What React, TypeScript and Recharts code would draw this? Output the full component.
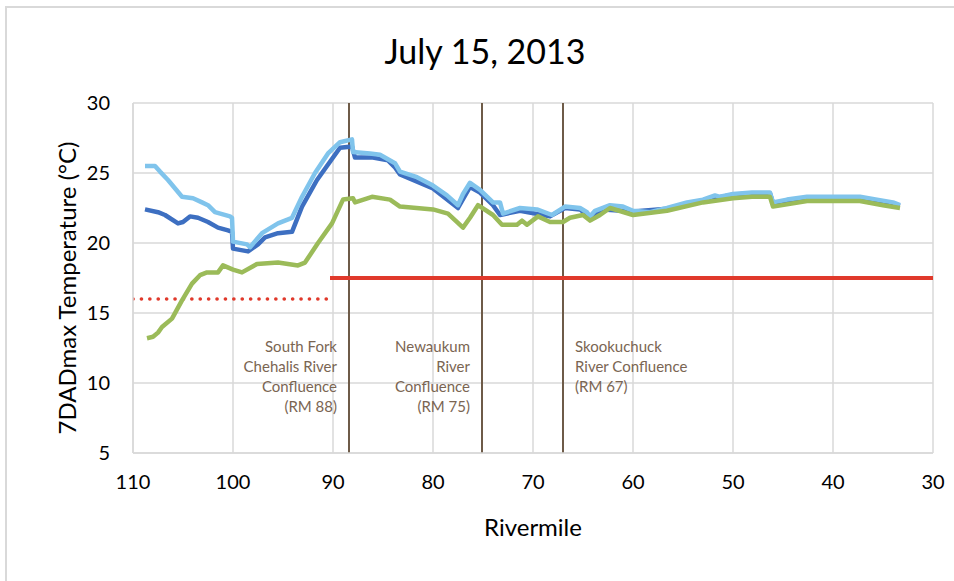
import React from 'react';
import { LineChart, Line, XAxis, YAxis, CartesianGrid, ReferenceLine, Label } from 'recharts';

const FONT = 'Lato, "Open Sans", sans-serif';

const xTicks = [110, 100, 90, 80, 70, 60, 50, 40, 30];
const yTicks = [5, 10, 15, 20, 25, 30];

// [rivermile, temperature]
const lightBlue: [number, number][] = [
  [108.8, 25.5], [107.8, 25.5], [107.3, 25.1], [106.5, 24.5], [105.1, 23.3], [104.0, 23.2],
  [103.1, 22.9], [102.5, 22.7], [101.8, 22.2], [100.3, 21.9], [100.1, 21.8], [100.0, 20.1],
  [98.6, 19.9], [98.3, 19.7], [97.1, 20.7], [95.5, 21.4], [94.1, 21.8], [93.1, 23.3],
  [91.8, 25.0], [90.5, 26.4], [89.3, 27.2], [88.1, 27.4], [88.0, 26.5], [86.3, 26.4],
  [85.3, 26.3], [83.8, 25.7], [83.3, 25.1], [81.6, 24.7], [80.0, 24.1], [78.6, 23.4],
  [77.5, 22.7], [77.0, 23.5], [76.3, 24.3], [75.3, 23.8], [74.0, 22.9], [73.3, 22.9],
  [73.0, 22.1], [71.3, 22.5], [69.6, 22.4], [68.1, 22.0], [66.8, 22.6], [65.3, 22.5],
  [64.6, 22.2], [64.3, 21.9], [63.8, 22.3], [62.3, 22.7], [61.0, 22.6], [60.0, 22.3],
  [58.3, 22.2], [56.6, 22.5], [54.6, 22.9], [53.0, 23.1], [51.8, 23.4], [51.3, 23.3],
  [50.0, 23.5], [48.1, 23.6], [47.3, 23.6], [46.3, 23.6], [46.0, 22.9], [44.6, 23.1],
  [42.6, 23.3], [40.0, 23.3], [37.3, 23.3], [35.6, 23.1], [34.0, 22.9], [33.3, 22.7],
];

const darkBlue: [number, number][] = [
  [108.8, 22.4], [107.5, 22.2], [106.8, 22.0], [105.5, 21.4], [105.0, 21.5], [104.3, 21.9],
  [103.5, 21.8], [102.5, 21.5], [101.5, 21.1], [100.5, 20.9], [100.1, 20.8], [100.0, 19.6],
  [98.5, 19.4], [97.5, 19.9], [96.8, 20.4], [95.5, 20.7], [94.1, 20.8], [93.1, 22.6],
  [91.6, 24.5], [90.3, 25.8], [89.3, 26.8], [88.1, 26.9], [87.8, 26.1], [86.0, 26.1],
  [84.5, 25.9], [83.8, 25.4], [83.3, 24.9], [80.0, 23.9], [77.5, 22.5], [76.3, 24.0],
  [75.3, 23.6], [74.0, 22.7], [73.3, 22.0], [71.3, 22.3], [68.3, 21.9], [66.8, 22.5],
  [65.3, 22.4], [64.3, 21.8], [63.0, 22.4], [60.0, 22.25], [56.6, 22.45], [53.0, 23.05],
  [50.0, 23.45], [48.1, 23.55], [46.3, 23.55], [46.0, 22.85], [42.6, 23.25], [37.3, 23.25],
  [33.3, 22.65],
];

const green: [number, number][] = [
  [108.6, 13.2], [108.0, 13.3], [107.5, 13.6], [107.1, 14.0], [106.1, 14.6], [105.1, 15.9],
  [104.1, 17.1], [103.3, 17.7], [102.6, 17.9], [101.5, 17.9], [101.0, 18.4], [100.0, 18.1],
  [99.1, 17.9], [97.6, 18.5], [95.5, 18.6], [93.5, 18.4], [92.8, 18.6], [91.5, 20.0],
  [90.1, 21.4], [89.0, 23.1], [88.0, 23.2], [87.8, 22.9], [86.1, 23.3], [84.3, 23.1],
  [83.3, 22.6], [80.0, 22.4], [78.5, 22.1], [77.0, 21.1], [76.3, 21.8], [75.5, 22.7],
  [74.0, 22.0], [73.1, 21.3], [71.6, 21.3], [71.1, 21.6], [70.6, 21.3], [69.5, 21.9],
  [68.3, 21.5], [67.0, 21.5], [66.3, 21.8], [65.0, 22.0], [64.3, 21.6], [63.3, 22.0],
  [62.3, 22.5], [60.0, 22.0], [56.6, 22.3], [53.0, 22.9], [50.0, 23.2], [48.1, 23.3],
  [46.3, 23.3], [46.0, 22.6], [42.6, 23.0], [40.0, 23.0], [37.3, 23.0], [35.0, 22.7],
  [33.3, 22.5],
];

const criterionSolid: [number, number][] = [[90.3, 17.5], [29.8, 17.5]];
const criterionDotted: [number, number][] = [[110, 16], [90.2, 16]];

const confluenceRm = [88.4, 75.1, 67];
const confluenceText = [
  ['South Fork', 'Chehalis River', 'Confluence', '(RM 88)'],
  ['Newaukum', 'River', 'Confluence', '(RM 75)'],
  ['Skookuchuck', 'River Confluence', '(RM 67)'],
];
const confluenceSide = ['left', 'left', 'right'];

const toRows = (pts: [number, number][]) => pts.map(([rm, t]) => ({ rm, t }));

const BROWN_LINE = '#6e5b48';
const BROWN_TEXT = '#7a6552';
const GRID = '#d9d9d9';

const makeAnnot = (lines: string[], side: string) => (props: any) => {
  const vb = props.viewBox || {};
  const x = (vb.x ?? 0) + (side === 'left' ? -12 : 12);
  const y0 = (vb.y ?? 0) + 244;
  return (
    <text
      x={x}
      y={y0}
      textAnchor={side === 'left' ? 'end' : 'start'}
      fill={BROWN_TEXT}
      fontFamily={FONT}
      fontSize={15}
    >
      {lines.map((l, i) => (
        <tspan key={i} x={x} dy={i === 0 ? '0.35em' : 20}>
          {l}
        </tspan>
      ))}
    </text>
  );
};

export default function App() {
  return (
    <div
      style={{
        position: 'absolute',
        left: 0,
        top: 0,
        width: 954,
        height: 581,
        overflow: 'hidden',
        background: '#fff',
        fontFamily: FONT,
      }}
    >
      <div
        style={{
          position: 'absolute',
          left: 5,
          top: 6,
          width: 949,
          height: 575,
          borderLeft: `2px solid ${GRID}`,
          borderTop: `2px solid ${GRID}`,
          boxSizing: 'border-box',
        }}
      />
      <div
        style={{
          position: 'absolute',
          left: 335,
          top: 28,
          width: 300,
          textAlign: 'center',
          fontSize: 34,
          lineHeight: '46px',
          color: '#000',
          fontFamily: FONT,
        }}
      >
        July 15, 2013
      </div>
      <div style={{ position: 'absolute', left: 0, top: 0 }}>
        <LineChart width={954} height={581} margin={{ top: 103, right: 21, bottom: 0, left: 0 }}>
          <CartesianGrid stroke={GRID} strokeWidth={1.5} />
          <XAxis
            dataKey="rm"
            type="number"
            domain={[30, 110]}
            reversed
            ticks={xTicks}
            interval={0}
            height={128}
            axisLine={{ stroke: GRID, strokeWidth: 1.5 }}
            tickLine={false}
            tickMargin={16}
            tick={{ fill: '#000', fontSize: 20, fontFamily: FONT }}
            allowDataOverflow
          >
            <Label
              value="Rivermile"
              position="center"
              dy={10}
              fill="#000"
              fontSize={24}
              fontFamily={FONT}
            />
          </XAxis>
          <YAxis
            type="number"
            domain={[5, 30]}
            ticks={yTicks}
            interval={0}
            width={133}
            axisLine={{ stroke: GRID, strokeWidth: 1.5 }}
            tickLine={false}
            tickMargin={17}
            tick={{ fill: '#000', fontSize: 20, fontFamily: FONT }}
          >
            <Label
              value="7DADmax Temperature (°C)"
              position="center"
              angle={-90}
              dx={1}
              dy={10}
              fill="#000"
              fontSize={24}
              fontFamily={FONT}
            />
          </YAxis>
          {confluenceRm.map((rm, i) => (
            <ReferenceLine
              key={rm}
              x={rm}
              stroke={BROWN_LINE}
              strokeWidth={2}
              label={makeAnnot(confluenceText[i], confluenceSide[i])}
            />
          ))}
          <Line
            data={toRows(criterionDotted)}
            dataKey="t"
            stroke="#e0392b"
            strokeWidth={3.6}
            strokeDasharray="0.1 8.3"
            strokeLinecap="round"
            dot={false}
            activeDot={false}
            isAnimationActive={false}
          />
          <Line
            data={toRows(criterionSolid)}
            dataKey="t"
            stroke="#e0392b"
            strokeWidth={4}
            dot={false}
            activeDot={false}
            isAnimationActive={false}
          />
          <Line
            data={toRows(darkBlue)}
            dataKey="t"
            stroke="#3d6fc1"
            strokeWidth={4.5}
            strokeLinejoin="round"
            dot={false}
            activeDot={false}
            isAnimationActive={false}
          />
          <Line
            data={toRows(lightBlue)}
            dataKey="t"
            stroke="#80c4ec"
            strokeWidth={4.5}
            strokeLinejoin="round"
            dot={false}
            activeDot={false}
            isAnimationActive={false}
          />
          <Line
            data={toRows(green)}
            dataKey="t"
            stroke="#9bbb59"
            strokeWidth={4.5}
            strokeLinejoin="round"
            dot={false}
            activeDot={false}
            isAnimationActive={false}
          />
        </LineChart>
      </div>
    </div>
  );
}
